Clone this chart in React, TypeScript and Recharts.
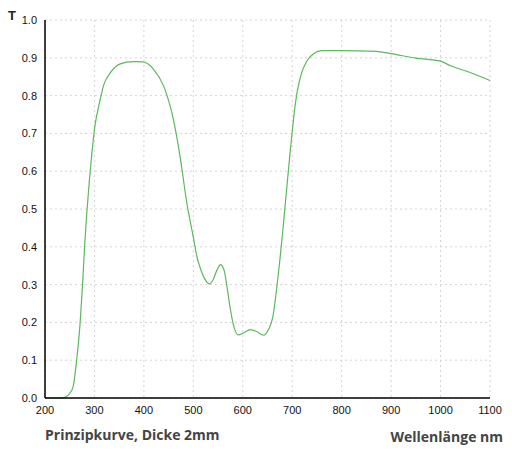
import React from 'react';
import { LineChart, Line, XAxis, YAxis, CartesianGrid } from 'recharts';

// wavelength in nm
const wavelengths = [
  200, 230, 240, 250, 257, 264, 271, 276, 280, 284, 290, 295, 301, 310, 319, 332,
  352, 378, 398, 420, 440, 460, 473, 487, 500, 507, 514, 524, 532, 540, 548, 555,
  562, 568, 574, 582, 591, 601, 615, 628, 642, 652, 661, 669, 675, 680, 685, 690,
  695, 700, 705, 710, 719, 729, 743, 760, 800, 870, 900, 950, 1000, 1020, 1060, 1100,
];

// transmission T
const transmission = [
  0, 0, 0.002, 0.012, 0.031, 0.1, 0.198, 0.3, 0.4, 0.48, 0.58, 0.65, 0.72, 0.78, 0.829, 0.86,
  0.884, 0.89, 0.889, 0.869, 0.825, 0.735, 0.64, 0.515, 0.425, 0.375, 0.344, 0.313, 0.302, 0.313, 0.339, 0.353,
  0.339, 0.295, 0.242, 0.189, 0.167, 0.172, 0.181, 0.176, 0.166, 0.181, 0.216, 0.295, 0.365, 0.43, 0.5, 0.57,
  0.64, 0.705, 0.765, 0.81, 0.86, 0.89, 0.911, 0.919, 0.919, 0.917, 0.911, 0.899, 0.891, 0.879, 0.861, 0.84,
];

const xTicks = [200, 300, 400, 500, 600, 700, 800, 900, 1000, 1100];
const yTicks = [0, 0.1, 0.2, 0.3, 0.4, 0.5, 0.6, 0.7, 0.8, 0.9, 1.0];

const data = wavelengths.map((nm, i) => ({ nm, t: transmission[i] }));

const tickStyle = { fill: '#111', fontSize: 11, fontFamily: '"Liberation Sans", Arial, sans-serif' };
const titleStyle: React.CSSProperties = {
  position: 'absolute',
  fontFamily: '"Open Sans", sans-serif',
  fontWeight: 700,
  fontSize: 14,
  color: '#444',
  whiteSpace: 'nowrap',
};

export default function App() {
  return (
    <div style={{ position: 'absolute', left: 0, top: 0, width: 512, height: 450, background: '#fff' }}>
      <LineChart
        width={512}
        height={450}
        data={data}
        margin={{ top: 20, right: 22, bottom: 22, left: 5 }}
      >
        <CartesianGrid stroke="#d4d4d4" strokeDasharray="2 3" />
        <XAxis
          dataKey="nm"
          type="number"
          domain={[200, 1100]}
          ticks={xTicks}
          tickLine={false}
          height={30}
          axisLine={{ stroke: '#000', strokeWidth: 1.5 }}
          tick={tickStyle}
          interval={0}
        />
        <YAxis
          type="number"
          domain={[0, 1]}
          ticks={yTicks}
          tickLine={false}
          width={40}
          axisLine={{ stroke: '#000', strokeWidth: 1.5 }}
          tick={tickStyle}
          tickFormatter={(v: number) => v.toFixed(1)}
          interval={0}
        />
        <Line
          type="monotone"
          dataKey="t"
          stroke="#5cb85c"
          strokeWidth={1.2}
          dot={false}
          isAnimationActive={false}
        />
      </LineChart>
      <div style={{ ...titleStyle, left: 8, top: 8, fontSize: 13, fontFamily: '"Liberation Sans", Arial, sans-serif', color: '#222' }}>T</div>
      <div style={{ ...titleStyle, left: 45, top: 425 }}>Prinzipkurve, Dicke 2mm</div>
      <div style={{ ...titleStyle, right: 9, top: 427 }}>Wellenlänge nm</div>
    </div>
  );
}
